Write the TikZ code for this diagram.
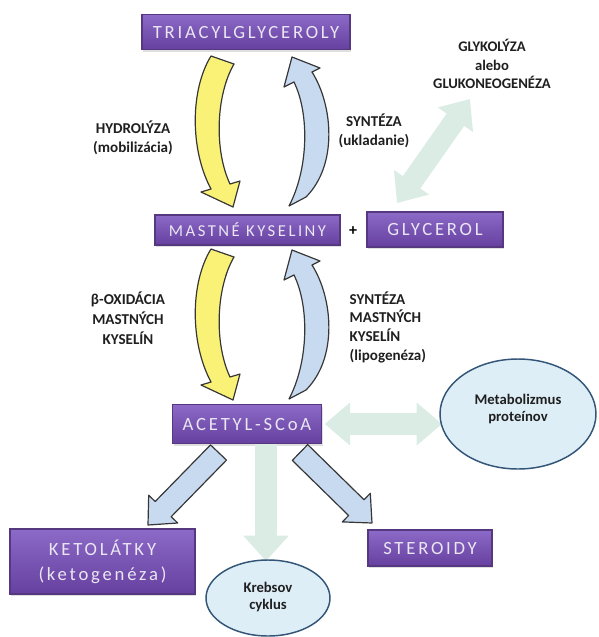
\documentclass[tikz,border=0pt]{standalone}
\usepackage{fontspec}
\setmainfont{Carlito}
\newfontfamily\boxfont[LetterSpace=15]{Carlito}
\usetikzlibrary{shapes.geometric,arrows.meta,shadows}

\definecolor{boxtop}{RGB}{140,106,200}
\definecolor{boxbot}{RGB}{102,64,158}
\definecolor{boxedge}{RGB}{86,56,128}
\definecolor{boxtext}{RGB}{234,230,242}
\definecolor{mint}{RGB}{218,236,228}
\definecolor{paleblue}{RGB}{200,218,240}
\definecolor{lemon}{RGB}{250,242,118}
\definecolor{outline}{RGB}{55,55,55}
\definecolor{cellfill}{RGB}{222,238,246}
\definecolor{celledge}{RGB}{50,85,120}

\tikzset{
  stage/.style={draw=boxedge, line width=0.8pt, top color=boxtop, bottom color=boxbot,
    text=boxtext, inner sep=0pt, align=center,
    drop shadow={opacity=0.25, shadow xshift=1pt, shadow yshift=-1.5pt}},
  stagefont/.style={font=\boxfont\fontsize{#1}{19}\selectfont},
  cell/.style={ellipse, draw=celledge, line width=1.1pt, fill=cellfill, inner sep=0pt},
  celltext/.style={align=center, text=black!88, font=\bfseries\fontsize{11}{13}\selectfont},
  lbl/.style={font=\bfseries\fontsize{11.3}{14}\selectfont, align=center, text=black!88},
  mintboth/.style={draw=mint, line width=16pt,
    {Triangle[width=31pt,length=19pt]}-{Triangle[width=31pt,length=19pt]}},
  mintone/.style={draw=mint, line width=16.5pt, -{Triangle[width=33pt,length=19pt]}},
  lemonblock/.style={fill=lemon, draw=outline, line width=0.9pt, line join=round},
  blueblock/.style={fill=paleblue, draw=outline, line width=0.9pt, line join=round}
}

\begin{document}
\begin{tikzpicture}[x=0.75pt,y=0.75pt]
\useasboundingbox (0,0) rectangle (599,-637);

% purple stage boxes
\node[stage, stagefont=14, minimum width=156pt, minimum height=26.25pt] (tri) at (246,-32) {TRIACYLGLYCEROLY};
\node[stage, stagefont=12.5, minimum width=138.75pt, minimum height=22.5pt] (mk) at (247.5,-230) {MASTNÉ KYSELINY};
\node[font=\bfseries\fontsize{12}{12}\selectfont] (plus) at (353,-231) {+};
\node[stage, stagefont=14, minimum width=102pt, minimum height=26.25pt] (gly) at (435,-229.5) {GLYCEROL};
\node[stage, stagefont=14, minimum width=111.75pt, minimum height=29.25pt] (ac) at (247,-424) {ACETYL-SCoA};
\node[stage, stagefont=14, minimum width=138.75pt, minimum height=48.75pt] (keto) at (102.5,-561.5) {KETOLÁTKY\\(ketogenéza)};
\node[stage, stagefont=14, minimum width=93pt, minimum height=27pt] (ster) at (430,-548) {STEROIDY};

% pale double and single arrows
\coordinate (glyA) at (397,-203);
\coordinate (glyB) at (470,-99);
\path (518,-414) coordinate (metc);
\draw[mintboth] (glyA) -- (glyB);
\draw[mintboth] ([xshift=2pt]ac.east) -- (ac.east -| 442,0);
\draw[mintone] (ac.south -| 266,0) -- (266,-561);

% ellipses
\node[cell, minimum width=117pt, minimum height=82.5pt] (met) at (metc) {};
\node[celltext] (metl) at ([yshift=4pt]met.center) {Metabolizmus\\proteínov};
\node[cell, minimum width=93pt, minimum height=57pt] (kreb) at (268,-598) {};
\node[celltext] (krebl) at ([yshift=1pt]kreb.center) {Krebsov\\cyklus};

% curved block arrows between the upper boxes and between the lower ones
\foreach \dy in {0,-193}{
  \begin{scope}[yshift=\dy*0.75pt]
    \path[lemonblock] (211,-56) -- (234,-64) .. controls (216,-95) and (214,-150) .. (230,-184)
      -- (240,-181) -- (233,-207) -- (201,-192) -- (211,-189)
      .. controls (190,-150) and (190,-90) .. (211,-56) -- cycle;
    \path[blueblock] (292,-57) -- (320,-68) -- (312,-72)
      .. controls (333,-105) and (338,-165) .. (306,-197) -- (289,-206)
      .. controls (308,-170) and (310,-115) .. (294,-82) -- (284,-87) -- cycle;
  \end{scope}
}

% straight block arrows below ACETYL-SCoA
\path[blueblock] (210.5,-444.9) -- (226.5,-460.1) -- (171.2,-516.7) -- (177.7,-523)
  -- (148,-525) -- (148.7,-495.2) -- (155.2,-501.5) -- cycle;
\path[blueblock] (307.7,-444.6) -- (364.0,-499.7) -- (370.3,-493.3) -- (372,-523)
  -- (342.3,-521.9) -- (348.6,-515.5) -- (292.3,-460.4) -- cycle;

% labels
\node[lbl] (hyd) at (133,-138) {HYDROLÝZA\\(mobilizácia)};
\node[lbl] (ukl) at (374,-131) {SYNTÉZA\\(ukladanie)};
\node[lbl, font=\bfseries\fontsize{11}{14}\selectfont] (glyk) at (492,-64) {GLYKOLÝZA\\alebo\\GLUKONEOGENÉZA};
\node[lbl, font=\bfseries\fontsize{11.3}{15}\selectfont] (boxi) at (128,-318) {β-OXIDÁCIA\\MASTNÝCH\\KYSELÍN};
\node[lbl, align=left, anchor=west] (lipo) at (345,-327) {SYNTÉZA\\MASTNÝCH\\KYSELÍN\\(lipogenéza)};
\end{tikzpicture}
\end{document}
